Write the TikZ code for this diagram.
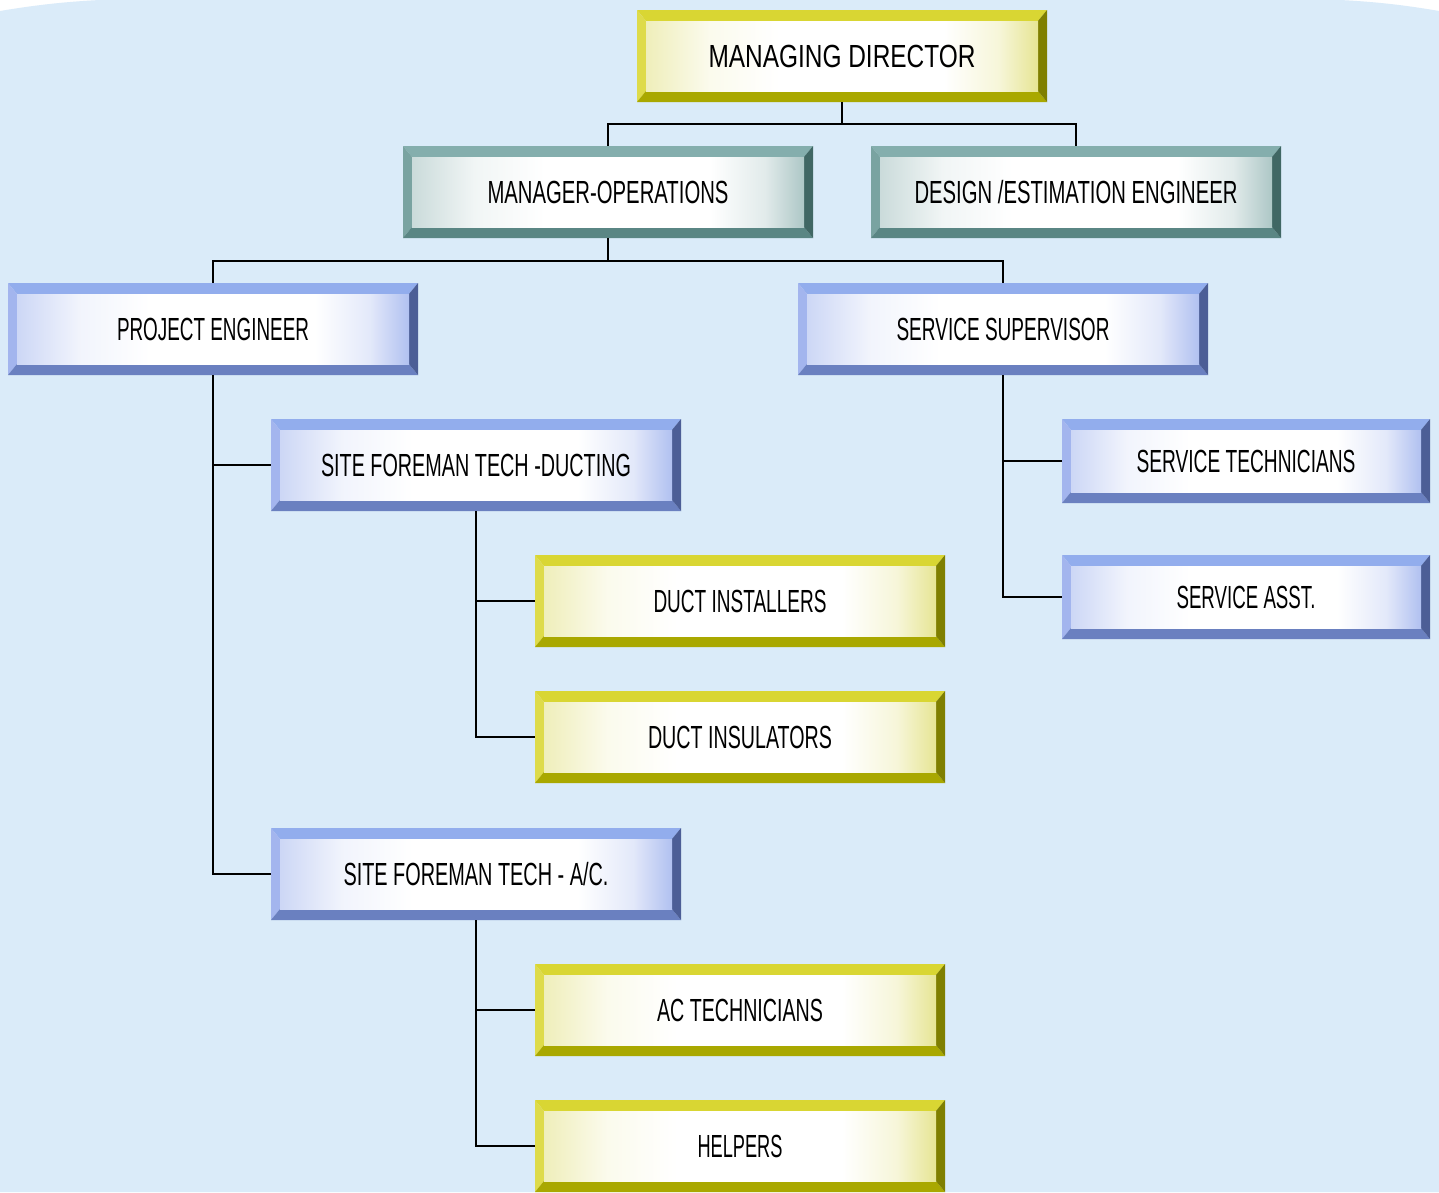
\documentclass[tikz,border=0pt]{standalone}
\usepackage{fontspec}
\setmainfont{Liberation Sans}
\usepackage{graphicx}
\definecolor{bgblue}{HTML}{DAEBF9}
% yellow set
\definecolor{yT}{HTML}{D9D633}\definecolor{yL}{HTML}{DEDB4A}\definecolor{yB}{HTML}{A9A800}\definecolor{yR}{HTML}{7F7F00}\definecolor{yE}{HTML}{DCDA66}
% teal set
\definecolor{tT}{HTML}{84AEAD}\definecolor{tL}{HTML}{79A3A1}\definecolor{tB}{HTML}{5A8684}\definecolor{tR}{HTML}{406764}\definecolor{tE}{HTML}{8AAFAE}
% blue set
\definecolor{bT}{HTML}{92ADED}\definecolor{bL}{HTML}{A3B5EE}\definecolor{bB}{HTML}{6A80C0}\definecolor{bR}{HTML}{4C5E96}\definecolor{bE}{HTML}{8FA6EA}
\colorlet{cE}{yE}
\pgfdeclarehorizontalshading[cE]{facesh}{100bp}{color(0bp)=(cE!45!white); color(25bp)=(cE!45!white); color(33bp)=(cE!12!white); color(42bp)=(white); color(63bp)=(white); color(70bp)=(cE!25!white); color(75bp)=(cE!70!white); color(100bp)=(cE!70!white)}
\newcommand\boxlabel[2]{\resizebox{#1pt}{\height}{#2}}
\tikzset{
  bevbox/.style={rectangle, inner sep=0pt, outer sep=0pt,
    minimum width=410pt, minimum height=92pt,
    font=\fontsize{32}{36}\selectfont,
    /utils/exec={\colorlet{cT}{#1T}\colorlet{cL}{#1L}\colorlet{cB}{#1B}\colorlet{cR}{#1R}\colorlet{cE}{#1E}},
    path picture={
      \coordinate (nw) at (path picture bounding box.north west);
      \coordinate (ne) at (path picture bounding box.north east);
      \coordinate (sw) at (path picture bounding box.south west);
      \coordinate (se) at (path picture bounding box.south east);
      \fill[cT] (nw) -- (ne) -- ([xshift=-9pt,yshift=-11pt]ne) -- ([xshift=9pt,yshift=-11pt]nw) -- cycle;
      \fill[cL] (nw) -- (sw) -- ([xshift=9pt,yshift=11pt]sw) -- ([xshift=9pt,yshift=-11pt]nw) -- cycle;
      \fill[cB] (sw) -- (se) -- ([xshift=-9pt,yshift=11pt]se) -- ([xshift=9pt,yshift=11pt]sw) -- cycle;
      \fill[cR] (ne) -- (se) -- ([xshift=-9pt,yshift=11pt]se) -- ([xshift=-9pt,yshift=-11pt]ne) -- cycle;
      \shade[shading=facesh] ([xshift=9pt,yshift=11pt]sw) rectangle ([xshift=-9pt,yshift=-11pt]ne);
    }},
  link/.style={draw=black, line width=1.8pt}
}
\begin{document}
\begin{tikzpicture}[x=1pt,y=-1pt]
\useasboundingbox (0,0) rectangle (1439,1192);
\fill[white] (0,0) rectangle (1439,1192);
\fill[bgblue] (0,11) .. controls (30,6) and (60,2) .. (100,0) -- (1340,0) .. controls (1380,2) and (1410,6) .. (1439,11) -- (1439,1192) -- (0,1192) -- cycle;

\node[bevbox=y] (md) at (842,56) {\boxlabel{267}{MANAGING DIRECTOR}};
\node[bevbox=t] (mo) at (608,192) {\boxlabel{241}{MANAGER-OPERATIONS}};
\node[bevbox=t] (de) at (1076,192) {\boxlabel{323}{DESIGN /ESTIMATION ENGINEER}};
\node[bevbox=b] (pe) at (213,329) {\boxlabel{192}{PROJECT ENGINEER}};
\node[bevbox=b] (ss) at (1003,329) {\boxlabel{213}{SERVICE SUPERVISOR}};
\node[bevbox=b] (sfd) at (476,465) {\boxlabel{310}{SITE FOREMAN TECH -DUCTING}};
\node[bevbox=b, minimum width=368pt, minimum height=84pt] (st) at (1246,461) {\boxlabel{219}{SERVICE TECHNICIANS}};
\node[bevbox=b, minimum width=368pt, minimum height=84pt] (sa) at (1246,597) {\boxlabel{139}{SERVICE ASST.}};
\node[bevbox=y] (di) at (740,601) {\boxlabel{173}{DUCT INSTALLERS}};
\node[bevbox=y] (dins) at (740,737) {\boxlabel{184}{DUCT INSULATORS}};
\node[bevbox=b] (sfac) at (476,874) {\boxlabel{265}{SITE FOREMAN TECH - A/C.}};
\node[bevbox=y] (ac) at (740,1010) {\boxlabel{166}{AC TECHNICIANS}};
\node[bevbox=y] (hl) at (740,1146) {\boxlabel{85}{HELPERS}};

\draw[link] (md.south) -- ++(0,22) -| (mo.north);
\draw[link] (md.south) -- ++(0,22) -| (de.north);
\draw[link] (mo.south) -- ++(0,23) -| (pe.north);
\draw[link] (mo.south) -- ++(0,23) -| (ss.north);
\draw[link] (pe.south) |- (sfd.west);
\draw[link] (pe.south) |- (sfac.west);
\draw[link] (sfd.south) |- (di.west);
\draw[link] (sfd.south) |- (dins.west);
\draw[link] (sfac.south) |- (ac.west);
\draw[link] (sfac.south) |- (hl.west);
\draw[link] (ss.south) |- (st.west);
\draw[link] (ss.south) |- (sa.west);
\end{tikzpicture}
\end{document}
